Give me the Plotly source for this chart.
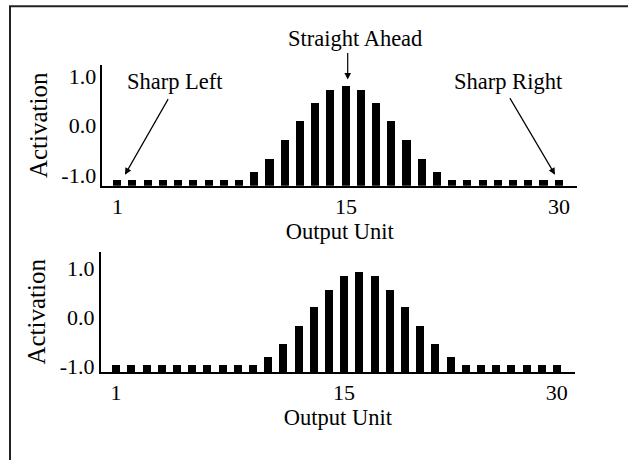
import plotly.graph_objects as go

W, H = 628, 460

units = list(range(1, 31))
top_values = [-1.1] * 9 + [-0.93, -0.67, -0.29, 0.09, 0.45, 0.72, 0.80, 0.72, 0.45, 0.09, -0.29, -0.67, -0.93] + [-1.1] * 8
bottom_values = [-0.97] * 10 + [-0.81, -0.53, -0.17, 0.21, 0.57, 0.85, 0.93, 0.85, 0.57, 0.21, -0.17, -0.53, -0.81] + [-0.97] * 7

x_tickvals = [1, 16, 30]
x_ticktext = ["1", "15", "30"]
y_tickvals = [-1.0, 0.0, 1.0]
y_ticktext = ["-1.0", "0.0", "1.0"]

TOP_RANGE = [-1.219, 1.227]
BOT_RANGE = [-1.12, 1.334]
X_RANGE = [0.0, 31.2]

FONT = "Liberation Serif, Times New Roman, serif"
TICK_SIZE = 22
TEXT_SIZE = 22.5


def px(x):
    return x / W


def py(y):
    return 1 - y / H


fig = go.Figure()
fig.add_trace(go.Bar(x=units, y=[v - TOP_RANGE[0] for v in top_values], base=TOP_RANGE[0],
                     marker=dict(color="black", line=dict(width=0)), width=0.53,
                     xaxis="x", yaxis="y", showlegend=False))
fig.add_trace(go.Bar(x=units, y=[v - BOT_RANGE[0] for v in bottom_values], base=BOT_RANGE[0],
                     marker=dict(color="black", line=dict(width=0)), width=0.53,
                     xaxis="x2", yaxis="y2", showlegend=False))

axis_common = dict(showgrid=False, zeroline=False, showline=True, linecolor="black", linewidth=1.5,
                   ticks="", tickfont=dict(family=FONT, size=TICK_SIZE, color="black"), fixedrange=True)

fig.update_layout(
    width=W, height=H,
    margin=dict(l=0, r=0, t=0, b=0),
    paper_bgcolor="white", plot_bgcolor="white",
    font=dict(family=FONT, color="black", size=TEXT_SIZE),
    xaxis=dict(domain=[px(102.3), px(577.3)], anchor="y", range=X_RANGE, tickvals=x_tickvals, ticktext=x_ticktext,
               title=dict(text="Output Unit", font=dict(family=FONT, size=TEXT_SIZE), standoff=1), **axis_common),
    yaxis=dict(domain=[py(188), py(65)], anchor="x", range=TOP_RANGE, tickvals=y_tickvals, ticktext=y_ticktext,
               title=dict(text="Activation", font=dict(family=FONT, size=25), standoff=7), **axis_common),
    xaxis2=dict(domain=[px(100.7), px(575)], anchor="y2", range=X_RANGE, tickvals=x_tickvals, ticktext=x_ticktext,
                title=dict(text="Output Unit", font=dict(family=FONT, size=TEXT_SIZE), standoff=1), **axis_common),
    yaxis2=dict(domain=[py(377.7), py(255)], anchor="x2", range=BOT_RANGE, tickvals=y_tickvals, ticktext=y_ticktext,
                title=dict(text="Activation", font=dict(family=FONT, size=25), standoff=7), **axis_common),
    bargap=0,
)

# outer frame
fig.add_shape(type="rect", xref="paper", yref="paper", x0=px(10), y0=-0.05, x1=1.05, y1=py(5.3),
              line=dict(color="#222", width=2), fillcolor="rgba(0,0,0,0)", layer="above")

arrow_style = dict(showarrow=True, arrowhead=2, arrowsize=1.1, arrowwidth=1.2, arrowcolor="black",
                   axref="pixel", ayref="pixel", text="", xref="x", yref="y", standoff=0)


def data_x(pxx):
    return X_RANGE[0] + (pxx - 102.3) / (577.3 - 102.3) * (X_RANGE[1] - X_RANGE[0])


def data_y(pyy):
    return TOP_RANGE[0] + (188 - pyy) / (188 - 65) * (TOP_RANGE[1] - TOP_RANGE[0])


# arrows
fig.add_annotation(x=data_x(347.7), y=data_y(80), ax=0, ay=-28, **arrow_style)
fig.add_annotation(x=data_x(125), y=data_y(176.7), ax=44, ay=-77, **arrow_style)
fig.add_annotation(x=data_x(555), y=data_y(176.7), ax=-46, ay=-78, **arrow_style)

# labels
label_style = dict(showarrow=False, xref="paper", yref="paper", xanchor="center", yanchor="middle",
                   font=dict(family=FONT, size=TEXT_SIZE, color="black"))
fig.add_annotation(x=px(355), y=py(38.3), text="Straight Ahead", **label_style)
fig.add_annotation(x=px(175), y=py(82), text="Sharp Left", **label_style)
fig.add_annotation(x=px(508), y=py(82), text="Sharp Right", **label_style)

fig.write_html("out.html", config={"displayModeBar": False},
               post_script="document.body.style.margin='0';document.body.style.overflow='hidden';")
